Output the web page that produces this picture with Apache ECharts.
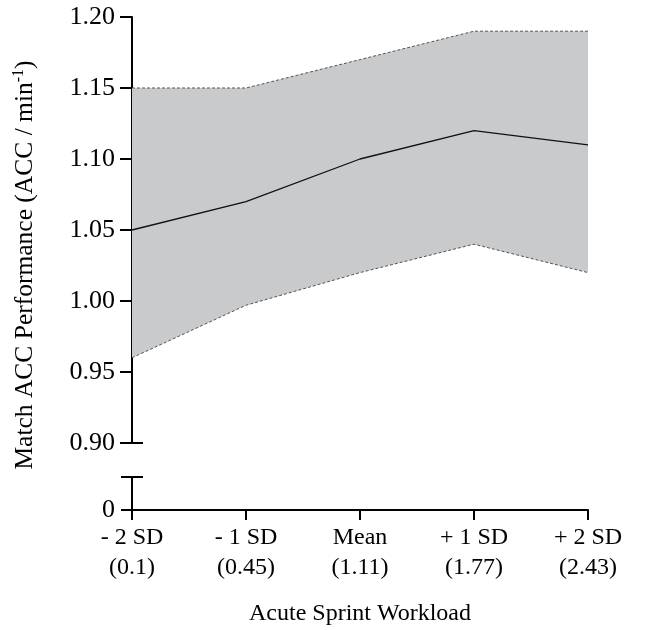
<!DOCTYPE html>
<html>
<head>
<meta charset="utf-8">
<script src="https://cdn.jsdelivr.net/npm/echarts@6/dist/echarts.min.js"></script>
<style>html,body{margin:0;padding:0;background:#fff}#c{width:662px;height:630px}</style>
</head>
<body>
<div id="c"></div>
<script>
var categories = ['- 2 SD\n(0.1)', '- 1 SD\n(0.45)', 'Mean\n(1.11)', '+ 1 SD\n(1.77)', '+ 2 SD\n(2.43)'];
var meanValues = [1.05, 1.07, 1.10, 1.12, 1.11];
var upperValues = [1.15, 1.15, 1.17, 1.19, 1.19];
var lowerValues = [0.96, 0.997, 1.02, 1.04, 1.02];
var upperTicks = [0.90, 0.95, 1.00, 1.05, 1.10, 1.15, 1.20];

var bandValues = upperValues.map(function (u, i) { return +(u - lowerValues[i]).toFixed(4); });

var FONT = '"Liberation Serif", "Times New Roman", serif';
var chart = echarts.init(document.getElementById('c'), null, {renderer: 'canvas'});
var dotted = {color: '#555', width: 1, type: [3, 2]};

chart.setOption({
  animation: false,
  backgroundColor: '#fff',
  grid: [
    {left: 132, right: 74, top: 17, height: 426},
    {left: 132, right: 74, top: 477, height: 33}
  ],
  xAxis: [
    {gridIndex: 0, type: 'category', data: categories, boundaryGap: false, show: false},
    {gridIndex: 1, type: 'category', data: categories, boundaryGap: false,
     axisLine: {lineStyle: {color: '#000', width: 2}},
     axisTick: {show: true, length: 10, lineStyle: {color: '#000', width: 2}},
     axisLabel: {color: '#000', fontFamily: FONT, fontSize: 24, lineHeight: 30, margin: 13, interval: 0},
     name: 'Acute Sprint Workload', nameLocation: 'middle', nameGap: 92,
     nameTextStyle: {color: '#000', fontFamily: FONT, fontSize: 24}}
  ],
  yAxis: [
    {gridIndex: 0, type: 'value', min: 0.90, max: 1.20, interval: 0.05,
     splitLine: {show: false},
     axisLine: {show: true, lineStyle: {color: '#000', width: 2}},
     axisTick: {show: true, length: 12, lineStyle: {color: '#000', width: 2}},
     axisLabel: {color: '#000', fontFamily: FONT, fontSize: 26, margin: 17,
       customValues: upperTicks,
       formatter: function (v) { return v.toFixed(2); }}},
    {gridIndex: 0, type: 'value', min: 0.90, max: 1.20, position: 'left',
     splitLine: {show: false}, axisLine: {show: false}, axisLabel: {show: false},
     axisTick: {show: true, inside: true, length: 11, customValues: [0.90], lineStyle: {color: '#000', width: 2}}},
    {gridIndex: 1, type: 'value', min: 0, max: 1, interval: 1,
     splitLine: {show: false},
     axisLine: {show: true, lineStyle: {color: '#000', width: 2}},
     axisTick: {show: true, length: 11, lineStyle: {color: '#000', width: 2}},
     axisLabel: {color: '#000', fontFamily: FONT, fontSize: 26, margin: 17,
       formatter: function (v) { return v === 0 ? '0' : ''; }}},
    {gridIndex: 1, type: 'value', min: 0, max: 1, position: 'left',
     splitLine: {show: false}, axisLine: {show: false}, axisLabel: {show: false},
     axisTick: {show: true, inside: true, length: 11, customValues: [1], lineStyle: {color: '#000', width: 2}}}
  ],
  graphic: [{
    type: 'text', x: 25, y: 265, rotation: Math.PI / 2,
    style: {
      text: '{a|Match ACC Performance (ACC / min}{s|-1}{a|)}',
      align: 'center', verticalAlign: 'middle',
      rich: {
        a: {fontFamily: FONT, fontSize: 25.5, fill: '#000', color: '#000'},
        s: {fontFamily: FONT, fontSize: 16, fill: '#000', color: '#000', padding: [0, 0, 12, 0]}
      }
    }
  }],
  series: [
    {name: 'lower', type: 'line', xAxisIndex: 0, yAxisIndex: 0, data: lowerValues, stack: 'band',
     symbol: 'none', lineStyle: dotted, z: 3},
    {name: 'band', type: 'line', xAxisIndex: 0, yAxisIndex: 0, data: bandValues, stack: 'band',
     symbol: 'none', lineStyle: {opacity: 0}, areaStyle: {color: '#c9cacc', opacity: 1}, z: 1},
    {name: 'upper', type: 'line', xAxisIndex: 0, yAxisIndex: 0, data: upperValues,
     symbol: 'none', lineStyle: dotted, z: 3},
    {name: 'mean', type: 'line', xAxisIndex: 0, yAxisIndex: 0, data: meanValues,
     symbol: 'none', lineStyle: {color: '#111', width: 1.3}, z: 4}
  ]
});
</script>
</body>
</html>
